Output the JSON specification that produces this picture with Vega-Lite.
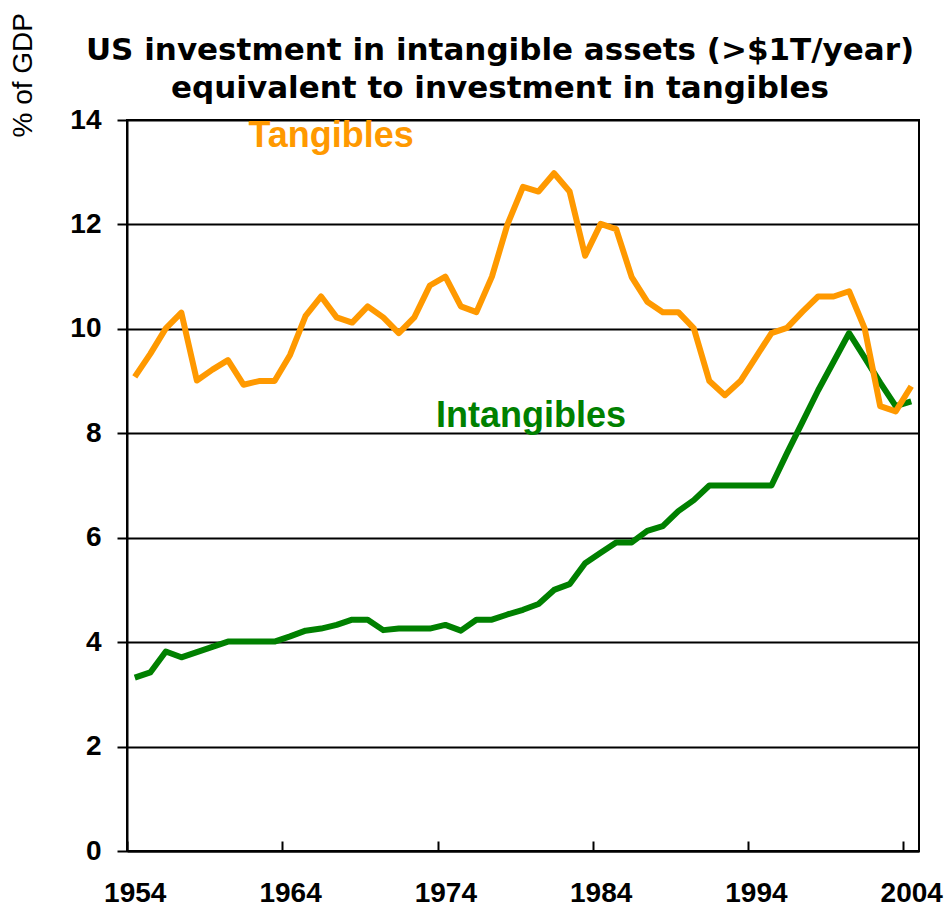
{
  "$schema": "https://vega.github.io/schema/vega-lite/v6.json",
  "width": 792,
  "height": 731,
  "autosize": "none",
  "padding": {"left": 127, "top": 120, "right": 27, "bottom": 55},
  "background": "white",
  "title": {
    "text": ["US investment in intangible assets (>$1T/year)", "equivalent to investment in tangibles"],
    "font": "DejaVu Sans",
    "fontSize": 31,
    "fontWeight": "bold",
    "color": "black",
    "anchor": "middle",
    "dx": -23,
    "dy": 112,
    "offset": 20,
    "lineHeight": 38
  },
  "datasets": {
    "series": [
      {"year": 1954, "series": "Tangibles", "value": 9.08},
      {"year": 1955, "series": "Tangibles", "value": 9.52},
      {"year": 1956, "series": "Tangibles", "value": 10.01},
      {"year": 1957, "series": "Tangibles", "value": 10.31},
      {"year": 1958, "series": "Tangibles", "value": 9.01},
      {"year": 1959, "series": "Tangibles", "value": 9.22},
      {"year": 1960, "series": "Tangibles", "value": 9.4},
      {"year": 1961, "series": "Tangibles", "value": 8.93},
      {"year": 1962, "series": "Tangibles", "value": 9.0},
      {"year": 1963, "series": "Tangibles", "value": 9.0},
      {"year": 1964, "series": "Tangibles", "value": 9.5},
      {"year": 1965, "series": "Tangibles", "value": 10.25},
      {"year": 1966, "series": "Tangibles", "value": 10.62},
      {"year": 1967, "series": "Tangibles", "value": 10.22},
      {"year": 1968, "series": "Tangibles", "value": 10.12},
      {"year": 1969, "series": "Tangibles", "value": 10.43},
      {"year": 1970, "series": "Tangibles", "value": 10.22},
      {"year": 1971, "series": "Tangibles", "value": 9.92},
      {"year": 1972, "series": "Tangibles", "value": 10.22},
      {"year": 1973, "series": "Tangibles", "value": 10.83},
      {"year": 1974, "series": "Tangibles", "value": 11.0},
      {"year": 1975, "series": "Tangibles", "value": 10.43},
      {"year": 1976, "series": "Tangibles", "value": 10.32},
      {"year": 1977, "series": "Tangibles", "value": 11.0},
      {"year": 1978, "series": "Tangibles", "value": 12.0},
      {"year": 1979, "series": "Tangibles", "value": 12.72},
      {"year": 1980, "series": "Tangibles", "value": 12.63},
      {"year": 1981, "series": "Tangibles", "value": 12.98},
      {"year": 1982, "series": "Tangibles", "value": 12.63},
      {"year": 1983, "series": "Tangibles", "value": 11.4},
      {"year": 1984, "series": "Tangibles", "value": 12.01},
      {"year": 1985, "series": "Tangibles", "value": 11.91},
      {"year": 1986, "series": "Tangibles", "value": 10.99},
      {"year": 1987, "series": "Tangibles", "value": 10.52},
      {"year": 1988, "series": "Tangibles", "value": 10.32},
      {"year": 1989, "series": "Tangibles", "value": 10.32},
      {"year": 1990, "series": "Tangibles", "value": 10.01},
      {"year": 1991, "series": "Tangibles", "value": 9.0},
      {"year": 1992, "series": "Tangibles", "value": 8.73},
      {"year": 1993, "series": "Tangibles", "value": 9.0},
      {"year": 1994, "series": "Tangibles", "value": 9.46},
      {"year": 1995, "series": "Tangibles", "value": 9.92},
      {"year": 1996, "series": "Tangibles", "value": 10.02},
      {"year": 1997, "series": "Tangibles", "value": 10.33},
      {"year": 1998, "series": "Tangibles", "value": 10.62},
      {"year": 1999, "series": "Tangibles", "value": 10.62},
      {"year": 2000, "series": "Tangibles", "value": 10.72},
      {"year": 2001, "series": "Tangibles", "value": 10.01},
      {"year": 2002, "series": "Tangibles", "value": 8.52},
      {"year": 2003, "series": "Tangibles", "value": 8.42},
      {"year": 2004, "series": "Tangibles", "value": 8.9},
      {"year": 1954, "series": "Intangibles", "value": 3.32},
      {"year": 1955, "series": "Intangibles", "value": 3.42},
      {"year": 1956, "series": "Intangibles", "value": 3.82},
      {"year": 1957, "series": "Intangibles", "value": 3.71},
      {"year": 1958, "series": "Intangibles", "value": 3.81},
      {"year": 1959, "series": "Intangibles", "value": 3.91},
      {"year": 1960, "series": "Intangibles", "value": 4.01},
      {"year": 1961, "series": "Intangibles", "value": 4.01},
      {"year": 1962, "series": "Intangibles", "value": 4.01},
      {"year": 1963, "series": "Intangibles", "value": 4.01},
      {"year": 1964, "series": "Intangibles", "value": 4.11},
      {"year": 1965, "series": "Intangibles", "value": 4.22},
      {"year": 1966, "series": "Intangibles", "value": 4.26},
      {"year": 1967, "series": "Intangibles", "value": 4.33},
      {"year": 1968, "series": "Intangibles", "value": 4.43},
      {"year": 1969, "series": "Intangibles", "value": 4.43},
      {"year": 1970, "series": "Intangibles", "value": 4.23},
      {"year": 1971, "series": "Intangibles", "value": 4.26},
      {"year": 1972, "series": "Intangibles", "value": 4.26},
      {"year": 1973, "series": "Intangibles", "value": 4.26},
      {"year": 1974, "series": "Intangibles", "value": 4.33},
      {"year": 1975, "series": "Intangibles", "value": 4.22},
      {"year": 1976, "series": "Intangibles", "value": 4.43},
      {"year": 1977, "series": "Intangibles", "value": 4.43},
      {"year": 1978, "series": "Intangibles", "value": 4.53},
      {"year": 1979, "series": "Intangibles", "value": 4.62},
      {"year": 1980, "series": "Intangibles", "value": 4.73},
      {"year": 1981, "series": "Intangibles", "value": 5.0},
      {"year": 1982, "series": "Intangibles", "value": 5.11},
      {"year": 1983, "series": "Intangibles", "value": 5.51},
      {"year": 1984, "series": "Intangibles", "value": 5.71},
      {"year": 1985, "series": "Intangibles", "value": 5.91},
      {"year": 1986, "series": "Intangibles", "value": 5.91},
      {"year": 1987, "series": "Intangibles", "value": 6.13},
      {"year": 1988, "series": "Intangibles", "value": 6.22},
      {"year": 1989, "series": "Intangibles", "value": 6.51},
      {"year": 1990, "series": "Intangibles", "value": 6.72},
      {"year": 1991, "series": "Intangibles", "value": 7.0},
      {"year": 1992, "series": "Intangibles", "value": 7.0},
      {"year": 1993, "series": "Intangibles", "value": 7.0},
      {"year": 1994, "series": "Intangibles", "value": 7.0},
      {"year": 1995, "series": "Intangibles", "value": 7.0},
      {"year": 1996, "series": "Intangibles", "value": 7.62},
      {"year": 1997, "series": "Intangibles", "value": 8.22},
      {"year": 1998, "series": "Intangibles", "value": 8.82},
      {"year": 1999, "series": "Intangibles", "value": 9.37},
      {"year": 2000, "series": "Intangibles", "value": 9.92},
      {"year": 2001, "series": "Intangibles", "value": 9.45},
      {"year": 2002, "series": "Intangibles", "value": 8.97},
      {"year": 2003, "series": "Intangibles", "value": 8.52},
      {"year": 2004, "series": "Intangibles", "value": 8.61}
    ],
    "labels": [
      {"series": "Tangibles", "year": 1966.64, "value": 13.48},
      {"series": "Intangibles", "year": 1979.51, "value": 8.12}
    ]
  },
  "encoding": {
    "x": {
      "field": "year",
      "type": "quantitative",
      "scale": {"domain": [1953.5, 2004.5], "nice": false, "zero": false},
      "axis": {
        "title": null,
        "values": [1954, 1964, 1974, 1984, 1994, 2004],
        "format": "d",
        "grid": false,
        "tickSize": -10,
        "tickOffset": -7.75,
        "labelOffset": 7.75,
        "tickColor": "black",
        "tickWidth": 2,
        "labelPadding": 38,
        "domainColor": "black",
        "domainWidth": 2
      }
    },
    "y": {
      "field": "value",
      "type": "quantitative",
      "scale": {"domain": [0, 14], "nice": false},
      "axis": {
        "title": "% of GDP",
        "values": [0, 2, 4, 6, 8, 10, 12, 14],
        "grid": true,
        "gridColor": "black",
        "gridWidth": 2,
        "gridOpacity": 1,
        "tickSize": 10,
        "tickColor": "black",
        "tickWidth": 2,
        "labelPadding": 16,
        "domainColor": "black",
        "domainWidth": 2,
        "titleFont": "Liberation Sans",
        "titleFontWeight": "normal",
        "titleFontSize": 28,
        "titleColor": "black",
        "titleAngle": 270,
        "titleAlign": "left",
        "titleBaseline": "middle",
        "titleX": -104,
        "titleY": 17
      }
    },
    "color": {
      "field": "series",
      "type": "nominal",
      "scale": {"domain": ["Tangibles", "Intangibles"], "range": ["#FF9900", "#008000"]},
      "legend": null
    }
  },
  "layer": [
    {
      "data": {"name": "series"},
      "transform": [{"filter": "datum.series === 'Intangibles'"}],
      "mark": {"type": "line", "strokeWidth": 6, "strokeJoin": "round"}
    },
    {
      "data": {"name": "series"},
      "transform": [{"filter": "datum.series === 'Tangibles'"}],
      "mark": {"type": "line", "strokeWidth": 6, "strokeJoin": "round"}
    },
    {
      "data": {"name": "labels"},
      "mark": {"type": "text", "font": "Liberation Sans", "fontSize": 36, "fontWeight": "bold", "align": "center", "baseline": "alphabetic"},
      "encoding": {"text": {"field": "series"}}
    }
  ],
  "config": {
    "view": {"stroke": "black", "strokeWidth": 2},
    "axis": {
      "labelFont": "Liberation Sans",
      "labelFontWeight": "bold",
      "labelFontSize": 28,
      "labelColor": "black"
    }
  }
}
